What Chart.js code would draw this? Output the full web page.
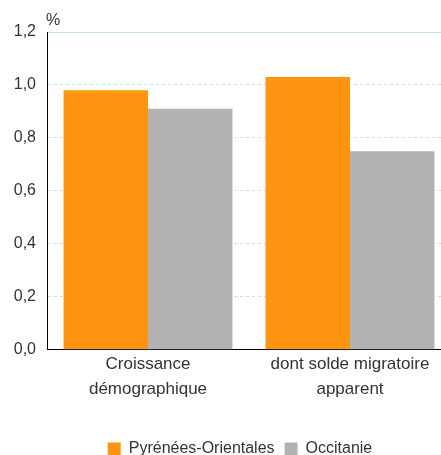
<!DOCTYPE html>
<html lang="fr">
<head>
<meta charset="utf-8">
<title>Croissance démographique</title>
<script src="https://cdn.jsdelivr.net/npm/chart.js@4/dist/chart.umd.min.js"></script>
<style>
  html, body { margin: 0; padding: 0; overflow: hidden; background: #ffffff; }
  #wrap { width: 441px; height: 455px; overflow: hidden; }
  canvas { display: block; }
</style>
</head>
<body>
<div id="wrap"><canvas id="chart" width="480" height="467"></canvas></div>
<script>
// Categories (two-line labels)
const categories = [
  ["Croissance", "démographique"],
  ["dont solde migratoire", "apparent"]
];
// Annual rates in %
const pyreneesOrientales = [0.98, 1.03];
const occitanie = [0.91, 0.75];
const seriesNames = ["Pyrénées-Orientales", "Occitanie"];
const yTicks = [0, 0.2, 0.4, 0.6, 0.8, 1.0, 1.2];

const FONT = "'Liberation Sans', Arial, Helvetica, sans-serif";
const TEXT = "#333333";

// Unit label drawn above the value axis
const unitLabel = {
  id: "unitLabel",
  afterDraw(chart) {
    const { ctx, chartArea } = chart;
    ctx.save();
    ctx.font = "16px " + FONT;
    ctx.fillStyle = TEXT;
    ctx.textAlign = "left";
    ctx.textBaseline = "alphabetic";
    ctx.fillText("%", chartArea.left - 1, 25);
    ctx.restore();
  }
};

new Chart(document.getElementById("chart"), {
  type: "bar",
  data: {
    labels: categories,
    datasets: [
      { label: seriesNames[0], data: pyreneesOrientales, backgroundColor: "#FF9410" },
      { label: seriesNames[1], data: occitanie, backgroundColor: "#B2B2B2" }
    ]
  },
  options: {
    responsive: false,
    devicePixelRatio: 1,
    animation: false,
    layout: { padding: { top: 32, right: 0, left: 0, bottom: 0 } },
    datasets: { bar: { categoryPercentage: 0.836, barPercentage: 1.0 } },
    scales: {
      x: {
        afterFit(scale) { scale.height += 27; },
        grid: { display: false, drawTicks: false },
        border: { display: true, color: "#000000", width: 1 },
        ticks: {
          color: TEXT,
          font: { family: FONT, size: 17, lineHeight: 1.42 },
          padding: 3,
          maxRotation: 0
        }
      },
      y: {
        min: 0,
        max: 1.2,
        afterFit(scale) { scale.width = 47; },
        afterBuildTicks(scale) { scale.ticks = yTicks.map(v => ({ value: v })); },
        grid: {
          drawTicks: false,
          color: ctx => (ctx.tick && ctx.tick.value === 0) ? "rgba(0,0,0,0)" : "#BFDFF3",
          lineWidth: 1
        },
        border: {
          display: true,
          color: "#000000",
          width: 1,
          dash: ctx => (ctx.tick && ctx.tick.value === 1.2) ? [] : [3, 3]
        },
        ticks: {
          color: TEXT,
          font: { family: FONT, size: 16 },
          padding: 11,
          callback: v => v.toFixed(1).replace(".", ",")
        }
      },
      // empty right-hand margin of the plot
      yMargin: {
        position: "right",
        min: 0,
        max: 1.2,
        afterFit(scale) { scale.width = 29; },
        grid: { display: false, drawTicks: false },
        border: { display: false },
        ticks: { display: false }
      }
    },
    plugins: {
      legend: {
        position: "bottom",
        labels: {
          color: TEXT,
          font: { family: FONT, size: 16 },
          boxWidth: 13,
          boxHeight: 13,
          padding: 10
        }
      },
      tooltip: { enabled: false }
    }
  },
  plugins: [unitLabel]
});
</script>
</body>
</html>
